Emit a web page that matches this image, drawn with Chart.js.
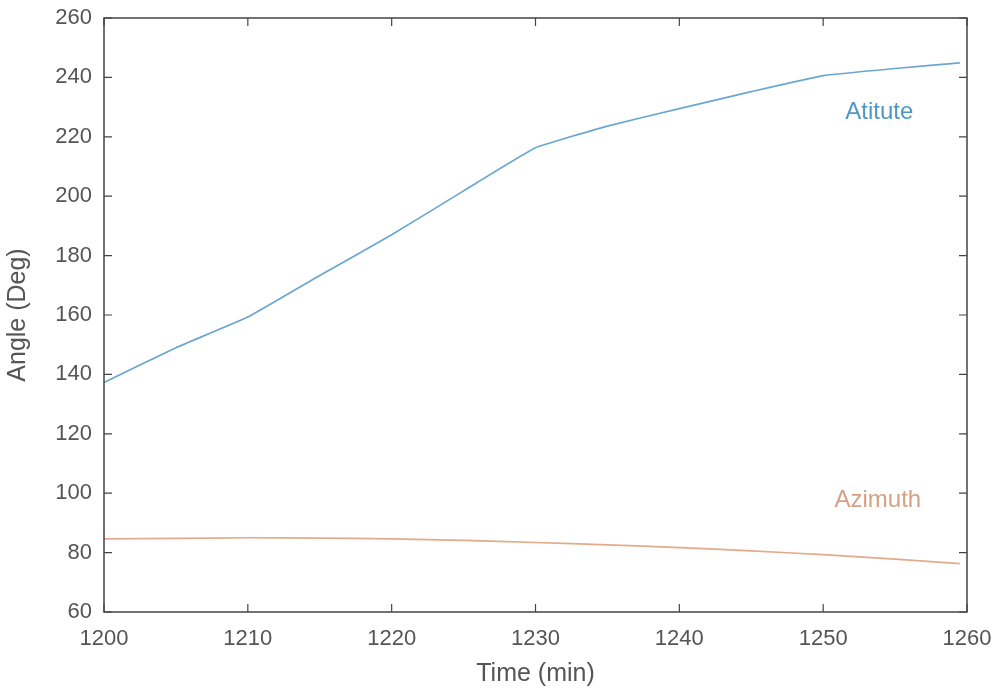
<!DOCTYPE html>
<html>
<head>
<meta charset="utf-8">
<script src="https://cdn.jsdelivr.net/npm/chart.js@4.4.1/dist/chart.umd.min.js"></script>
<style>
  html, body { margin: 0; padding: 0; background: #fff; }
  #wrap { width: 1005px; height: 689px; }
</style>
</head>
<body>
<div id="wrap"><canvas id="myChart"></canvas></div>
<script>
// Sun angle over time

const timeMin   = [1200, 1205, 1210, 1215, 1220, 1225, 1230, 1235, 1240, 1245, 1250, 1255, 1259.5];
const altitude  = [137.3, 149.0, 159.3, 173.3, 187.0, 201.8, 216.3, 223.6, 229.5, 235.2, 240.6, 243.0, 244.9];
const azimuth   = [84.6, 84.8, 85.0, 84.9, 84.6, 84.1, 83.4, 82.6, 81.7, 80.6, 79.3, 77.8, 76.3];

const xTicks = [1200, 1210, 1220, 1230, 1240, 1250, 1260];
const yTicks = [60, 80, 100, 120, 140, 160, 180, 200, 220, 240, 260];

// text labels placed in data coordinates
const seriesNotes = [
    { text: 'Atitute', x: 1253.9, y: 228.1, color: '#4f97c4' },
    { text: 'Azimuth', x: 1253.8, y: 97.6, color: '#d6a084' }
];

const inkColor = '#555555';
const fontFamily = '"Liberation Sans", Arial, sans-serif';

// MATLAB-style box with inward ticks on all four sides
const boxTicks = {
    id: 'boxTicks',
    afterDatasetsDraw(chart) {
        const { ctx, chartArea: a, scales } = chart;
        ctx.save();
        ctx.strokeStyle = '#444';
        ctx.lineWidth = 1.5;
        ctx.strokeRect(a.left, a.top, a.right - a.left, a.bottom - a.top);
        ctx.lineWidth = 1.2;
        const len = 8;
        ctx.beginPath();
        xTicks.forEach(v => {
            const px = scales.x.getPixelForValue(v);
            ctx.moveTo(px, a.bottom); ctx.lineTo(px, a.bottom - len);
            ctx.moveTo(px, a.top);    ctx.lineTo(px, a.top + len);
        });
        yTicks.forEach(v => {
            const py = scales.y.getPixelForValue(v);
            ctx.moveTo(a.left, py);  ctx.lineTo(a.left + len, py);
            ctx.moveTo(a.right, py); ctx.lineTo(a.right - len, py);
        });
        ctx.stroke();

        ctx.font = '24px ' + fontFamily;
        ctx.textAlign = 'center';
        ctx.textBaseline = 'middle';
        seriesNotes.forEach(n => {
            ctx.fillStyle = n.color;
            ctx.fillText(n.text, scales.x.getPixelForValue(n.x), scales.y.getPixelForValue(n.y));
        });
        ctx.restore();
    }
};

function createChart() {
    const ctx = document.getElementById('myChart');
    new Chart(ctx, {
        type: 'line',
        data: {
            datasets: [{
                label: 'Atitute',
                data: timeMin.map((t, i) => ({ x: t, y: altitude[i] })),
                borderColor: '#6aa7d0',
                borderWidth: 1.7,
                pointRadius: 0,
                tension: 0.1
            },
            {
                label: 'Azimuth',
                data: timeMin.map((t, i) => ({ x: t, y: azimuth[i] })),
                borderColor: '#e3ab8c',
                borderWidth: 1.7,
                pointRadius: 0,
                tension: 0.1
            }]
        },
        options: {
            responsive: true,
            maintainAspectRatio: false,
            animation: false,
            layout: { padding: { left: 0, right: 38, top: 18, bottom: 0 } },
            scales: {
                x: {
                    type: 'linear',
                    min: 1200,
                    max: 1260,
                    afterBuildTicks: s => { s.ticks = xTicks.map(v => ({ value: v })); },
                    afterFit: s => { s.height = 77; },
                    grid: { display: false },
                    border: { display: false },
                    ticks: {
                        color: inkColor, padding: 6, maxRotation: 0,
                        font: { size: 22, family: fontFamily },
                        callback: v => String(v)
                    },
                    title: { display: true, text: 'Time (min)', color: inkColor, padding: { top: 0, bottom: 0 }, font: { size: 25, family: fontFamily } }
                },
                y: {
                    min: 60,
                    max: 260,
                    afterBuildTicks: s => { s.ticks = yTicks.map(v => ({ value: v })); },
                    afterFit: s => { s.width = 104; },
                    grid: { display: false },
                    border: { display: false },
                    ticks: { color: inkColor, padding: 4, font: { size: 22, family: fontFamily } },
                    title: { display: true, text: 'Angle (Deg)', color: inkColor, padding: { top: 3, bottom: 0 }, font: { size: 25, family: fontFamily } }
                }
            },
            plugins: {
                legend: { display: false },
                tooltip: { enabled: false }
            }
        },
        plugins: [boxTicks]
    });
}
createChart();
</script>
</body>
</html>
